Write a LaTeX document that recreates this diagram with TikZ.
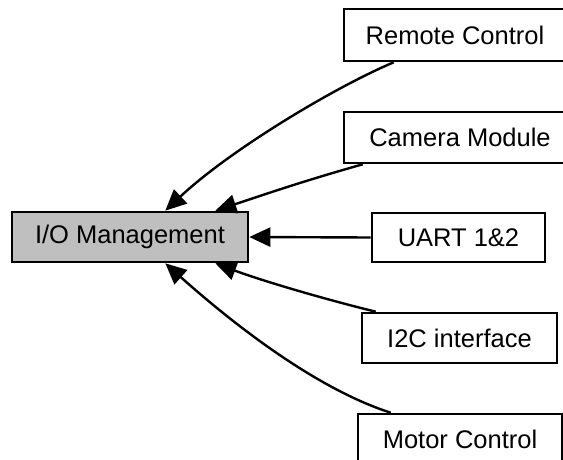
\documentclass[tikz,border=0pt]{standalone}
\usepackage{fontspec}
\setmainfont{Liberation Sans}
\usetikzlibrary{arrows.meta}
\begin{document}
\begin{tikzpicture}[x=1pt,y=-1pt,
  box/.style={draw=black,line width=2.6pt,rectangle,inner sep=0pt,
    font=\fontsize{25.5}{30}\selectfont,fill=white},
  edge/.style={line width=2.4pt,-{Triangle[length=21pt,width=19pt]}},
]
\useasboundingbox (0,0) rectangle (563,459);
\node[box,fill={rgb,255:red,191;green,191;blue,191},minimum width=236pt,minimum height=50pt] (io) at (130,237) {I/O Management};
\node[box,minimum width=222pt,minimum height=52pt] (rc) at (455,35) {Remote Control};
\node[box,minimum width=232pt,minimum height=51pt] (cm) at (460,137.5) {Camera Module};
\node[box,minimum width=173pt,minimum height=49pt] (uart) at (458.5,237.5) {UART 1\&2};
\node[box,minimum width=195pt,minimum height=50pt] (i2c) at (459.5,338) {I2C interface};
\node[box,minimum width=204pt,minimum height=50pt] (mc) at (460,439) {Motor Control};
\draw[edge] ([xshift=51pt]rc.south west) .. controls (335,87) and (230,150) .. ([xshift=-84pt]io.north east);
\draw[edge] ([xshift=20pt]cm.south west) .. controls (300,182) and (260,196) .. ([xshift=-34pt]io.north east);
\draw[edge] (uart.west) -- (io.east);
\draw[edge] ([xshift=15pt]i2c.north west) .. controls (320,298) and (260,280) .. ([xshift=-34pt]io.south east);
\draw[edge] ([xshift=34pt]mc.north west) .. controls (320,390) and (240,330) .. ([xshift=-84pt]io.south east);
\end{tikzpicture}
\end{document}
